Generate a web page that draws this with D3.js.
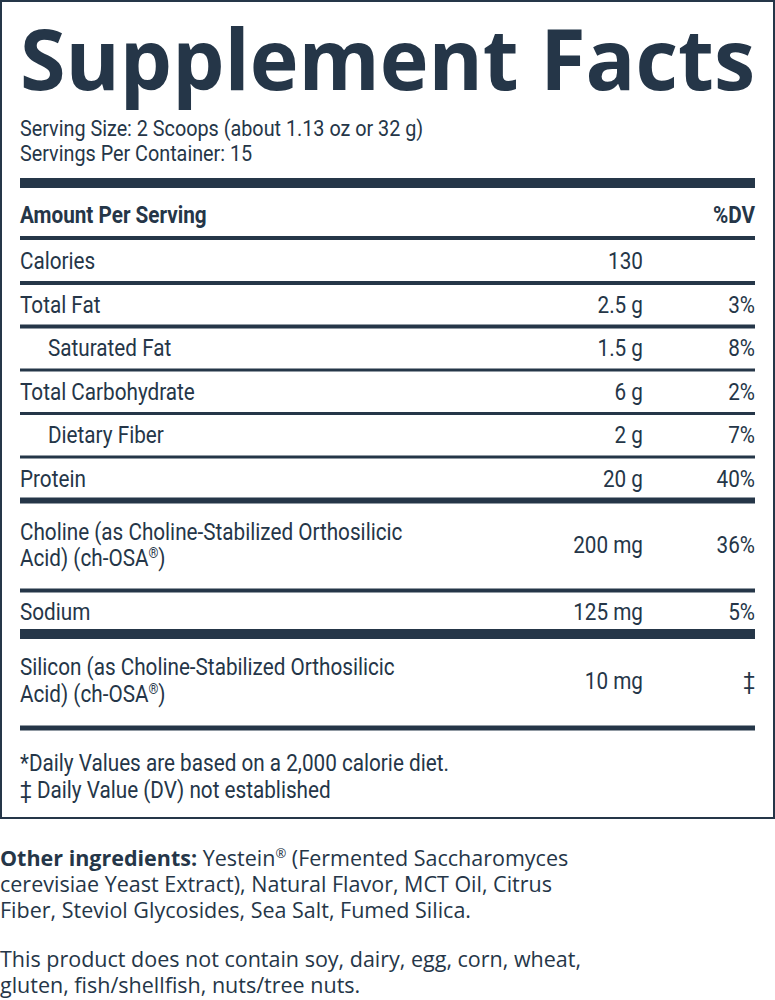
<!DOCTYPE html>
<html><head><meta charset="utf-8">
<script src="https://cdn.jsdelivr.net/npm/d3@7"></script>
<style>body{margin:0;background:#fff}</style></head>
<body><svg id="c" width="775" height="1000"></svg>
<script>
const names=[["Calories"],["Total Fat"],["Saturated Fat"],["Total Carbohydrate"],["Dietary Fiber"],["Protein"],["Choline (as Choline-Stabilized Orthosilicic","Acid) (ch-OSA®)"],["Sodium"],["Silicon (as Choline-Stabilized Orthosilicic","Acid) (ch-OSA®)"]];
const amounts=["130","2.5 g","1.5 g","6 g","2 g","20 g","200 mg","125 mg","10 mg"];
const dvs=["","3%","8%","2%","7%","40%","36%","5%","‡"];
const indent=[0,0,1,0,1,0,0,0,0];
const thickAfter=[4,4,3,3,3,6,4,10,5];
const servingLines=["Serving Size: 2 Scoops (about 1.13 oz or 32 g)","Servings Per Container: 15"];
const footnotes=["*Daily Values are based on a 2,000 calorie diet.","‡ Daily Value (DV) not established"];
const C="#253648";
const svg=d3.select("#c");
const F="Roboto, 'Liberation Sans Narrow', sans-serif";
svg.append("rect").attr("x",1).attr("y",1).attr("width",773).attr("height",817).attr("fill","none").attr("stroke",C).attr("stroke-width",2);
svg.append("text").attr("x",20).attr("y",90).attr("font-family","'Open Sans',sans-serif").attr("font-weight",700).attr("font-size",84).attr("fill",C).attr("textLength",735).attr("lengthAdjust","spacingAndGlyphs").text("Supplement Facts");
const tx=(x,y,s,o={})=>{const t=svg.append("text").attr("x",x).attr("y",y).attr("font-family",F).attr("font-size",o.fs||23).attr("fill",C).attr("font-weight",o.fw||400).attr("text-anchor",o.a||"start").attr("transform",`translate(${x},0) scale(0.9,1) translate(${-x},0)`);
 if(s.includes("®")){const p=s.split("®");t.append("tspan").text(p[0]);t.append("tspan").attr("font-size",14).attr("dy",-8).text("®");t.append("tspan").attr("dy",8).text(p[1]);} else t.text(s);return t;};
servingLines.forEach((s,i)=>tx(20,136+i*25,s,{fs:22}));
const bar=(y,h)=>svg.append("rect").attr("x",20).attr("y",y).attr("width",735).attr("height",h).attr("fill",C);
bar(178,10);
tx(20,223,"Amount Per Serving",{fw:700});tx(755,223,"%DV",{fw:700,a:"end"});
bar(236,4);
const rowH=[43,43.5,43.5,43.5,43.5,43.5,90,43.5,94];
const cum=[0];rowH.forEach(h=>cum.push(cum[cum.length-1]+h));
const y=d3.scaleLinear().domain([0,cum[cum.length-1]]).range([240,240+cum[cum.length-1]]);
names.forEach((n,i)=>{
 const top=y(cum[i]),bot=y(cum[i+1]);
 const mid=(top+bot)/2;
 if(n.length===1) tx(indent[i]?48:20,mid+8,n[0]);
 else {tx(20,mid-6,n[0]);tx(20,mid+21,n[1]);}
 tx(643,mid+8,amounts[i],{a:"end"});
 if(dvs[i]) tx(755,mid+8,dvs[i],{a:"end"});
 bar(bot-thickAfter[i]/2,thickAfter[i]);
});
footnotes.forEach((s,i)=>tx(20,771+i*27,s));
const G="'Open Sans',sans-serif";
const p=(yy,parts)=>{const t=svg.append("text").attr("x",0).attr("y",yy).attr("font-family",G).attr("font-size",21.5).attr("fill",C);parts.forEach(q=>{const s=t.append("tspan").attr("font-weight",q[1]||400).text(q[0]);if(q[2])s.attr("font-size",13).attr("dy",-8);if(q[3])s.attr("dy",8);});};
p(866,[["Other ingredients:",700],[" Yestein"],["®",400,1],[" (Fermented Saccharomyces",400,0,1]]);
p(892,[["cerevisiae Yeast Extract), Natural Flavor, MCT Oil, Citrus"]]);
p(918,[["Fiber, Steviol Glycosides, Sea Salt, Fumed Silica."]]);
p(967,[["This product does not contain soy, dairy, egg, corn, wheat,"]]);
p(993,[["gluten, fish/shellfish, nuts/tree nuts."]]);
</script></body></html>
